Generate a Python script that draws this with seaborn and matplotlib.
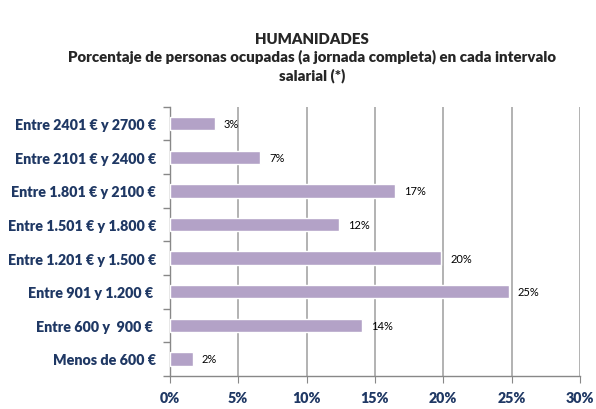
import matplotlib
matplotlib.use("Agg")
import matplotlib.pyplot as plt
import numpy as np
import pandas as pd
import seaborn as sns
from matplotlib.ticker import FixedLocator, PercentFormatter

categorias = ["Entre 2401 € y 2700 €", "Entre 2101 € y 2400 €", "Entre 1.801 € y 2100 €",
              "Entre 1.501 € y 1.800 €", "Entre 1.201 € y 1.500 €", "Entre 901 y 1.200 € ",
              "Entre 600 y  900 € ", "Menos de 600 €"]
porcentajes = [3.3, 6.6, 16.5, 12.4, 19.85, 24.8, 14.05, 1.66]
etiquetas = ["3%", "7%", "17%", "12%", "20%", "25%", "14%", "2%"]

df = pd.DataFrame({"intervalo": categorias, "pct": porcentajes})

sns.set_style("white")
plt.rcParams["font.family"] = ["Lato", "DejaVu Sans"]

fig = plt.figure(figsize=(5.96, 4.10), dpi=100)
ax = fig.add_axes([0.285, 0.081, 0.688, 0.656])
ax.grid(axis="x", color="#A6A6A6", linewidth=1.2, zorder=0)
ax.set_axisbelow(True)
sns.barplot(data=df, x="pct", y="intervalo", color="#B3A2C7", saturation=1,
            width=0.4, ax=ax, zorder=3)

# etiquetas de datos
for i, (v, t) in enumerate(zip(porcentajes, etiquetas)):
    ax.text(v + 0.65, i, t, va="center", ha="left", fontsize=8, color="#000000")

ax.set_xlim(0, 30)
ax.set_ylim(len(categorias) - 0.5, -0.5)
ax.xaxis.set_major_locator(FixedLocator([0, 5, 10, 15, 20, 25, 30]))
ax.xaxis.set_major_formatter(PercentFormatter(decimals=0))
ax.set_xlabel("")
ax.set_ylabel("")
ax.yaxis.set_minor_locator(FixedLocator(np.arange(-0.5, len(categorias), 1)))
ax.tick_params(axis="y", which="major", length=0, pad=10, labelsize=10.3, labelcolor="#1F3864")
ax.tick_params(axis="y", which="minor", left=True, length=5, color="#888888", width=1)
ax.tick_params(axis="x", which="major", bottom=True, length=5, color="#888888",
               labelsize=10.3, labelcolor="#1F3864", pad=6)
for lab in ax.get_yticklabels() + ax.get_xticklabels():
    lab.set_fontweight("heavy")
for s in ["top", "right"]:
    ax.spines[s].set_visible(False)
for s in ["left", "bottom"]:
    ax.spines[s].set_color("#888888")
    ax.spines[s].set_linewidth(1)

fig.text(0.523, 0.859, "HUMANIDADES\nPorcentaje de personas ocupadas (a jornada completa) en cada intervalo\nsalarial (*)",
         ha="center", va="center", fontsize=10.8, fontweight="heavy", linespacing=1.32)

fig.savefig("out.png", dpi=100)
